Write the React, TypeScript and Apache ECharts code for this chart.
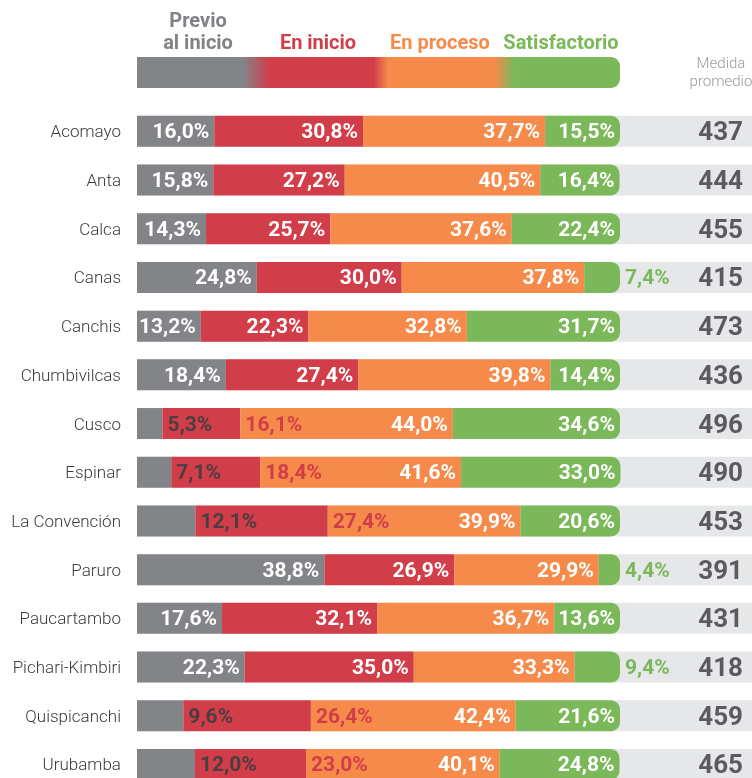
import React, { useEffect, useRef } from "react";
import * as echarts from "echarts";

const provinces = [
  "Acomayo", "Anta", "Calca", "Canas", "Canchis", "Chumbivilcas", "Cusco",
  "Espinar", "La Convención", "Paruro", "Paucartambo", "Pichari-Kimbiri",
  "Quispicanchi", "Urubamba",
];
const previo = [16.0, 15.8, 14.3, 24.8, 13.2, 18.4, 5.3, 7.1, 12.1, 38.8, 17.6, 22.3, 9.6, 12.0];
const inicio = [30.8, 27.2, 25.7, 30.0, 22.3, 27.4, 16.1, 18.4, 27.4, 26.9, 32.1, 35.0, 26.4, 23.0];
const proceso = [37.7, 40.5, 37.6, 37.8, 32.8, 39.8, 44.0, 41.6, 39.9, 29.9, 36.7, 33.3, 42.4, 40.1];
const satisfactorio = [15.5, 16.4, 22.4, 7.4, 31.7, 14.4, 34.6, 33.0, 20.6, 4.4, 13.6, 9.4, 21.6, 24.8];
const medida = [437, 444, 455, 415, 473, 436, 496, 490, 453, 391, 431, 418, 459, 465];
const legendNames = ["Previo", "al inicio", "En inicio", "En proceso", "Satisfactorio"];

const FONT = "Roboto, 'Liberation Sans', sans-serif";
const GRAY = "#838488";
const RED = "#d23d4a";
const ORANGE = "#f58a4b";
const GREEN = "#7bb85a";
const BG = "#e6e7e8";
const DARK = "#5b5b5e";

const fmt = (v: number) => v.toFixed(1).replace(".", ",") + "%";

export default function App() {
  const ref = useRef<HTMLDivElement>(null);
  useEffect(() => {
    if (!ref.current) return;
    const chart = echarts.init(ref.current, undefined, { renderer: "svg" });
    const labelBase = {
      show: true,
      position: "insideRight",
      distance: 5,
      color: "#ffffff",
      fontFamily: FONT,
      fontWeight: "bold",
      fontSize: 21,
      formatter: (p: any) => fmt(p.value),
    };
    const grayThreshold = 13;
    const greenThreshold = 10;

    const grayData = previo.map((v) =>
      v < grayThreshold ? { value: v, label: { position: "right", color: "#4a3e41" } } : v
    );
    const redData = inicio.map((v, i) =>
      previo[i] < grayThreshold ? { value: v, label: { position: "right", color: RED } } : v
    );
    const greenData = satisfactorio.map((v) =>
      v < greenThreshold ? { value: v, label: { position: "right", color: GREEN } } : v
    );

    const barW = 31;
    const x0 = 137;
    const fullW = 483;
    const titleFont = `bold 20px ${FONT}`;
    const titleStyle = (text: string, fill: string) => ({
      text,
      fill,
      font: titleFont,
      align: "center",
      verticalAlign: "middle",
      lineHeight: 18,
    });

    chart.setOption({
      animation: false,
      grid: {
        left: x0,
        right: 0,
        top: 107,
        height: 14 * 48.7,
        outerBoundsMode: "none",
        containLabel: false,
      },
      xAxis: {
        type: "value",
        min: 0,
        max: (100 * (752 - x0)) / fullW,
        show: false,
      },
      yAxis: [
        {
          type: "category",
          data: provinces,
          inverse: true,
          axisLine: { show: false },
          axisTick: { show: false },
          axisLabel: {
            margin: 16,
            color: "#3a3a3c",
            fontFamily: FONT,
            fontWeight: 300,
            fontSize: 17,
          },
        },
        {
          type: "category",
          data: medida.map(String),
          inverse: true,
          position: "right",
          z: 10,
          axisLine: { show: false },
          axisTick: { show: false },
          axisLabel: {
            inside: true,
            margin: 9,
            color: DARK,
            fontFamily: FONT,
            fontWeight: "bold",
            fontSize: 26,
            lineHeight: 24,
          },
        },
      ],
      series: [
        {
          type: "bar",
          name: "Previo al inicio",
          stack: "t",
          barWidth: barW,
          data: grayData,
          itemStyle: { color: GRAY },
          showBackground: true,
          backgroundStyle: { color: BG },
          label: labelBase,
        },
        {
          type: "bar",
          name: "En inicio",
          stack: "t",
          barWidth: barW,
          data: redData,
          itemStyle: { color: RED },
          label: labelBase,
        },
        {
          type: "bar",
          name: "En proceso",
          stack: "t",
          barWidth: barW,
          data: proceso,
          itemStyle: { color: ORANGE },
          label: labelBase,
        },
        {
          type: "bar",
          name: "Satisfactorio",
          stack: "t",
          barWidth: barW,
          data: greenData,
          itemStyle: { color: GREEN, borderRadius: [0, 9, 9, 0] },
          label: labelBase,
        },
      ],
      graphic: [
        {
          type: "rect",
          left: x0,
          top: 57,
          shape: { width: fullW, height: 31, r: [0, 9, 9, 0] },
          style: {
            fill: new echarts.graphic.LinearGradient(0, 0, 1, 0, [
              { offset: 0, color: GRAY },
              { offset: 0.22, color: GRAY },
              { offset: 0.275, color: RED },
              { offset: 0.49, color: RED },
              { offset: 0.52, color: ORANGE },
              { offset: 0.74, color: ORANGE },
              { offset: 0.78, color: GREEN },
              { offset: 1, color: GREEN },
            ]),
          },
        },
        { type: "text", x: 198, y: 20, style: titleStyle(legendNames[0], "#808285") },
        { type: "text", x: 198, y: 42, style: titleStyle(legendNames[1], "#808285") },
        { type: "text", x: 318, y: 42, style: titleStyle(legendNames[2], RED) },
        { type: "text", x: 440, y: 42, style: titleStyle(legendNames[3], ORANGE) },
        { type: "text", x: 561, y: 42, style: titleStyle(legendNames[4], GREEN) },
        {
          type: "text",
          x: 721,
          y: 63,
          style: { text: "Medida", fill: "#9a9b9e", font: `300 15px ${FONT}`, align: "center", verticalAlign: "middle", lineHeight: 16 },
        },
        {
          type: "text",
          x: 721,
          y: 81,
          style: { text: "promedio", fill: "#9a9b9e", font: `300 15px ${FONT}`, align: "center", verticalAlign: "middle", lineHeight: 16 },
        },
      ],
    });
    return () => chart.dispose();
  }, []);
  return (
    <div
      ref={ref}
      style={{ position: "fixed", left: 0, top: 0, width: 752, height: 778 }}
    />
  );
}
